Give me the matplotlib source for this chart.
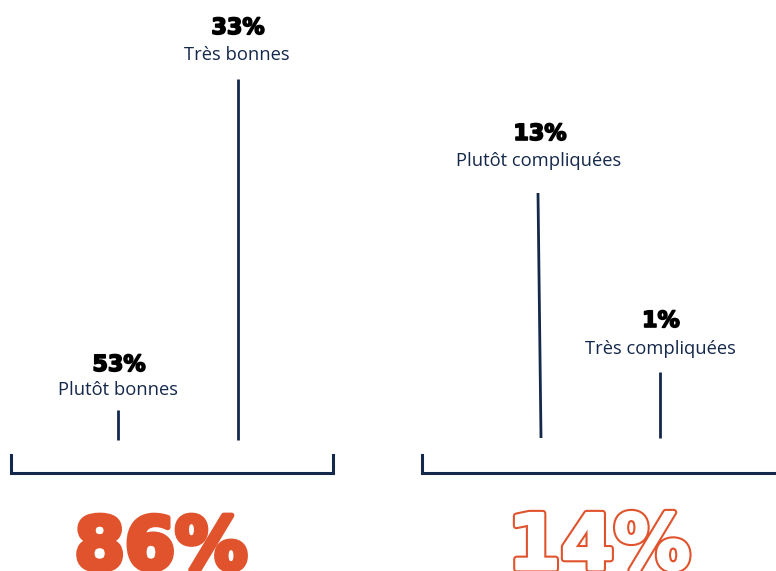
import matplotlib
matplotlib.use("Agg")
import matplotlib.pyplot as plt
import matplotlib.patheffects as pe

# segments
values = ["53%", "33%", "13%", "1%"]
labels = ["Plutôt bonnes", "Très bonnes", "Plutôt compliquées", "Très compliquées"]
stem_x_bottom = [118, 238, 541, 660]
stem_x_top = [118, 238, 538, 660]
stem_top = [410, 79, 193, 372]
stem_bottom = [440, 440, 438, 438]

# layout of the text above each stem (pixel baselines)
value_base = [371, 34, 140, 327]
label_base = [395, 60, 166, 354]
text_x = [118, 237, 539, 660]

totals = ["86%", "14%"]
total_x = [161, 599]
bracket_left = [11, 422]
bracket_right = [333, 790]

navy = "#14284b"
orange = "#e0532c"

fig = plt.figure(figsize=(7.76, 5.71), dpi=100)
ax = fig.add_axes([0, 0, 1, 1])
ax.set_xlim(0, 776)
ax.set_ylim(571, 0)
ax.axis("off")

for i in range(len(values)):
    ax.plot([stem_x_bottom[i], stem_x_top[i]], [stem_bottom[i], stem_top[i]],
            color=navy, lw=2, solid_capstyle="butt")
    ax.text(text_x[i] + 1, value_base[i], values[i], ha="center", va="baseline",
            fontsize=16, fontweight="heavy", color="black", family="DejaVu Sans",
            path_effects=[pe.withStroke(linewidth=1.2, foreground="black")])
    ax.text(text_x[i], label_base[i], labels[i], ha="center", va="baseline",
            fontsize=13.2, color=navy, family="Open Sans")

for j in range(len(totals)):
    l, r = bracket_left[j], bracket_right[j]
    ax.plot([l, l, r, r], [455, 473, 473, 455], color=navy, lw=2.2,
            solid_joinstyle="miter")

ax.text(total_x[0], 569, totals[0], ha="center", va="baseline", fontsize=52,
        fontweight="heavy", color=orange, family="DejaVu Sans",
        path_effects=[pe.withStroke(linewidth=4, foreground=orange)])
ax.text(total_x[1], 569, totals[1], ha="center", va="baseline", fontsize=55,
        fontweight="heavy", color="white", family="DejaVu Sans",
        path_effects=[pe.withStroke(linewidth=5, foreground=orange),
                      pe.withStroke(linewidth=2, foreground="white")])

fig.savefig("out.png", dpi=100, facecolor="white")
